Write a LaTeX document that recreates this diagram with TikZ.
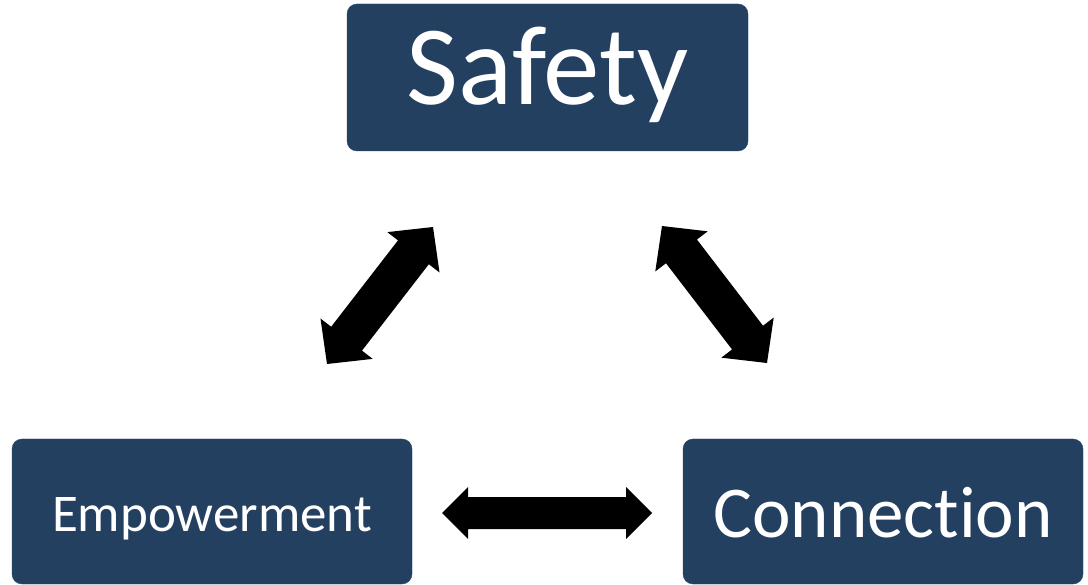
\documentclass[tikz,border=0pt]{standalone}
\usepackage{fontspec}
\setmainfont[Ligatures={NoCommon}]{Carlito}
\usetikzlibrary{calc}
\definecolor{navy}{RGB}{36,64,97}
\tikzset{
  box/.style={fill=navy, draw=navy, rounded corners=10pt, inner sep=0pt,
    minimum width=400pt, minimum height=146pt, text=white, text depth=0pt},
}
% block double arrow between two named coordinates
% #1 from, #2 to, #3 head length, #4 head half width, #5 shaft half width
\newcommand{\blockarrow}[5]{%
  \fill[black] (#1)
    -- ($(#1)!#3!(#2)!#4!90:(#2)$)
    -- ($(#1)!#3!(#2)!#5!90:(#2)$)
    -- ($(#2)!#3!(#1)!#5!-90:(#1)$)
    -- ($(#2)!#3!(#1)!#4!-90:(#1)$)
    -- (#2)
    -- ($(#2)!#3!(#1)!#4!90:(#1)$)
    -- ($(#2)!#3!(#1)!#5!90:(#1)$)
    -- ($(#1)!#3!(#2)!#5!-90:(#2)$)
    -- ($(#1)!#3!(#2)!#4!-90:(#2)$)
    -- cycle;}
\begin{document}
\begin{tikzpicture}[x=1pt,y=-1pt]
\useasboundingbox (0,0) rectangle (1088,585);
\node[box, minimum width=401pt, minimum height=147pt, text height=55pt,
  font=\fontsize{113}{116}\selectfont] (safety) at (547.5,77.5) {Safety};
\node[box, minimum height=145pt, text height=39pt,
  font=\fontsize{53}{56}\selectfont] (emp) at (212,511.5) {Empowerment};
\node[box, minimum height=145pt, text height=51pt,
  font=\fontsize{73}{76}\selectfont] (conn) at (883,511.5) {Connection};
% arrow tips
\coordinate (h1) at (442,513);
\coordinate (h2) at (652,513);
\coordinate (l1) at (327,364);
\coordinate (l2) at (433,227);
\coordinate (r1) at (662,226);
\coordinate (r2) at (767,363);
\blockarrow{h1}{h2}{26pt}{26pt}{16pt}
\blockarrow{l1}{l2}{32pt}{33pt}{19.5pt}
\blockarrow{r1}{r2}{32pt}{33pt}{19.5pt}
\end{tikzpicture}
\end{document}
